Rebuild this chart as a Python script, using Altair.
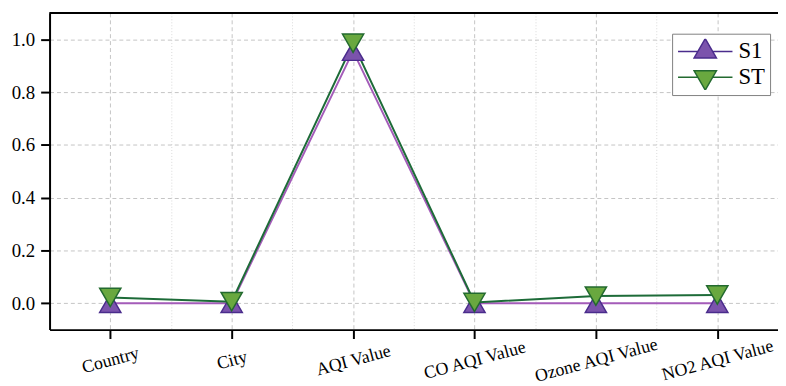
import json
import altair as alt
import pandas as pd

categories = ["Country", "City", "AQI Value", "CO AQI Value", "Ozone AQI Value", "NO2 AQI Value"]
series_names = ["S1", "ST"]
s1_values = [0.0, 0.0, 0.955, 0.0, 0.0, 0.0]
st_values = [0.022, 0.006, 0.985, 0.003, 0.027, 0.031]

x_tick_values = [0, 0.5, 1, 1.5, 2, 2.5, 3, 3.5, 4, 4.5, 5]
y_tick_values = [0.0, 0.1, 0.2, 0.3, 0.4, 0.5, 0.6, 0.7, 0.8, 0.9, 1.0]

line_colors = ["#a45cb9", "#1d6b38"]
fill_colors = ["#7b53ac", "#69a83f"]
stroke_colors = ["#4a2c8c", "#236a2f"]

# legend glyphs: a horizontal line with the triangle marker on it
legend_paths = [
    "M0,-0.473L0.41,0.237L-0.41,0.237ZM-1,0H-0.273M0.273,0H1",
    "M0,0.473L0.41,-0.237L-0.41,-0.237ZM-1,0H-0.273M0.273,0H1",
]

rows = []
for name, vals in zip(series_names, [s1_values, st_values]):
    for i, (c, v) in enumerate(zip(categories, vals)):
        rows.append({"idx": i, "category": c, "series": name, "value": v})
df = pd.DataFrame(rows)
legend_df = pd.DataFrame({"series": series_names})

FONT = "Liberation Serif"

x_label_expr = "round(datum.value*2) % 2 == 0 ? " + json.dumps(categories) + "[round(datum.value)] : ''"
y_label_expr = "round(datum.value*10) % 2 == 0 ? format(datum.value, '.1f') : ''"

x_scale = alt.Scale(domain=[-0.5, 5.5], nice=False, zero=False)
y_scale = alt.Scale(domain=[-0.1, 1.1], nice=False, zero=False)

x_axis = alt.Axis(
    values=x_tick_values, labelExpr=x_label_expr, title=None,
    labelAngle=345, labelAlign="center", labelBaseline="middle", labelPadding=22,
    labelFont=FONT, labelFontSize=18, labelColor="black", labelOverlap=False, labelFlush=False,
    labelBound=False, labelLimit=400,
    tickSize=9, tickWidth=2, tickColor="black",
    tickOpacity={"condition": {"test": "round(datum.value*2) % 2 != 0", "value": 0}, "value": 1},
    domainColor="black", domainWidth=2,
    grid=True,
    gridColor={"condition": {"test": "round(datum.value*2) % 2 != 0", "value": "#dadada"}, "value": "#c4c4c4"},
    gridDash={"condition": {"test": "round(datum.value*2) % 2 != 0", "value": [1, 2]}, "value": [4, 3]},
    gridWidth=1,
)
y_axis = alt.Axis(
    values=y_tick_values, labelExpr=y_label_expr, title=None,
    labelFont=FONT, labelFontSize=19, labelColor="black", labelPadding=6, labelOverlap=False,
    labelFlush=False,
    tickSize={"condition": {"test": "round(datum.value*10) % 2 != 0", "value": 5}, "value": 9},
    tickWidth=2, tickColor="black",
    domainColor="black", domainWidth=2,
    grid=True,
    gridColor={"condition": {"test": "round(datum.value*10) % 2 != 0", "value": "#dadada"}, "value": "#c4c4c4"},
    gridDash={"condition": {"test": "round(datum.value*10) % 2 != 0", "value": [1, 2]}, "value": [4, 3]},
    gridWidth=1,
)

base = alt.Chart(df)

lines = base.mark_line(strokeWidth=2).encode(
    x=alt.X("idx:Q", scale=x_scale, axis=x_axis),
    y=alt.Y("value:Q", scale=y_scale, axis=y_axis),
    color=alt.Color("series:N", scale=alt.Scale(domain=series_names, range=line_colors), legend=None),
)

points = base.mark_point(filled=True, size=460, strokeWidth=1.5, opacity=1).encode(
    x=alt.X("idx:Q"),
    y=alt.Y("value:Q"),
    shape=alt.Shape("series:N", scale=alt.Scale(domain=series_names, range=["triangle-up", "triangle-down"]), legend=None),
    fill=alt.Fill("series:N", scale=alt.Scale(domain=series_names, range=fill_colors), legend=None),
    stroke=alt.Stroke("series:N", scale=alt.Scale(domain=series_names, range=stroke_colors), legend=None),
)

top_rule = alt.Chart(legend_df).mark_rule(color="black", strokeWidth=2).encode(y=alt.Y(datum=1.1))

leg = alt.Legend(
    title=None, orient="none", legendX=629, legendY=21,
    symbolSize=3025, symbolStrokeWidth=1.5, symbolOpacity=1,
    labelFont=FONT, labelFontSize=23, labelColor="black", labelOffset=5,
    clipHeight=26, rowPadding=0, padding=5,
    strokeColor="#808080", fillColor="white",
)
legend_layer = alt.Chart(legend_df).mark_point(filled=True, opacity=0).encode(
    shape=alt.Shape("series:N", scale=alt.Scale(domain=series_names, range=legend_paths), legend=leg),
    fill=alt.Fill("series:N", scale=alt.Scale(domain=series_names, range=fill_colors), legend=leg),
    stroke=alt.Stroke("series:N", scale=alt.Scale(domain=series_names, range=stroke_colors), legend=leg),
)

chart = alt.layer(lines, points, top_rule, legend_layer).resolve_scale(
    shape="independent", fill="independent", stroke="independent"
).properties(
    width=736, height=320,
    autosize=alt.AutoSizeParams(type="none"),
    padding={"left": 42, "top": 3, "right": 0, "bottom": 55},
    background="white",
).configure_view(stroke=None).configure_legend(labelFont=FONT).configure_axis(labelFont=FONT)

chart.save("out.html", embed_options={"renderer": "svg", "actions": False})
